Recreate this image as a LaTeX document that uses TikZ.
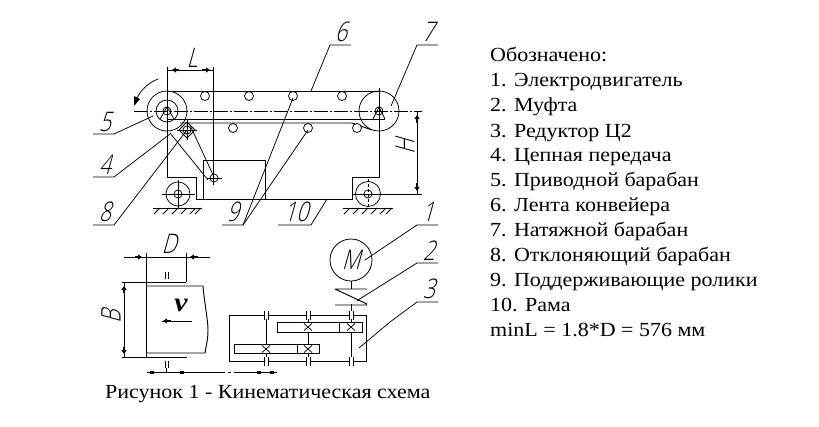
\documentclass[tikz,border=0pt]{standalone}
\usepackage{fontspec}
\setmainfont[FakeStretch=1.1]{Liberation Serif}
\newfontfamily\gost[UprightFont=* Light,FakeSlant=0.28,FakeStretch=0.78]{Open Sans}
\usetikzlibrary{arrows.meta}
\tikzset{
  x=1pt,y=-1pt,
  ln/.style={line width=0.95pt,black},
  thinln/.style={line width=0.75pt,black},
  axisln/.style={line width=0.8pt,black,dash pattern=on 14pt off 2pt on 2pt off 2pt},
  blob/.style={line width=2.6pt,black,-{Triangle[length=4pt,width=5pt]}},
  lbl/.style={font=\gost\fontsize{27}{27}\selectfont,inner sep=0pt,anchor=center},
  txt/.style={font=\fontsize{20}{20}\selectfont,inner sep=0pt,anchor=base west},
}
\begin{document}
\begin{tikzpicture}
\useasboundingbox (0,0) rectangle (819,426);
\fill[white] (0,0) rectangle (819,426);
% conveyor
\draw[axisln] (134,111) -- (422,111);
\draw[ln] (167,91) -- (379,91);
\draw[ln] (167,119) -- (385,119);
\draw[ln] (180,123) -- (352,123) -- (372,130);
\draw[ln] (167,67) -- (167,177) -- (196,177) -- (196,199) -- (352,199) -- (352,177) -- (379,177) -- (379,88);
\draw[ln] (203,199) -- (203,160) -- (265,160) -- (265,199);
\draw[ln] (213,67) -- (213,185);
\draw[thinln] (167,111) circle (20) (167,111) circle (11) (167,111) circle (4);
\draw[thinln] (167,107) -- (160,119) (167,107) -- (174,119);
\draw[thinln] (379,111) circle (20) (379,111) circle (4);
\draw[thinln] (379,107) -- (373,119) (379,107) -- (385,119);
\foreach \px/\py in {205/96,249/96,293/96,342/96,233/128,308/128,357/128}
  \draw[thinln,fill=white] (\px,\py) circle (4.5);
% deflecting sprocket and chain
\draw[thinln] (187,122) -- (195,130) -- (187,138) -- (179,130) -- cycle;
\draw[thinln] (187,130) circle (4);
\draw[thinln] (177,130) -- (197,130) (187,120) -- (187,140);
\draw[thinln] (214,178) circle (4);
\draw[thinln] (207,178) -- (222,178);
\draw[thinln] (170,133) -- (208,180) (190,125) -- (214,177);
% wheels
\draw[thinln] (178,194) circle (12) (178,194) circle (4);
\draw[thinln] (162,194) -- (195,194) (178,180) -- (178,208);
\draw[thinln] (368,194) circle (12.5) (368,194) circle (4);
\draw[ln] (352,194) -- (422,194);
\draw[thinln,densely dashed] (368,179) -- (368,208);
\draw[ln] (153,208) -- (202,208) (343,208) -- (393,208);
\foreach \hx in {160,169,178,187,196,201}
  \draw[thinln] (\hx,208) -- (\hx-6,214);
\foreach \hx in {350,359,368,377,386,392}
  \draw[thinln] (\hx,208) -- (\hx-6,214);
% rotation arrow
\draw[thinln] (158,79) .. controls (148,83) and (141,90) .. (137,98);
\fill (134,106) -- (134,96) -- (140,99) -- cycle;
% L dimension
\draw[thinln] (167,70) -- (213,70);
\draw[blob] (179,70) -- (172,70);
\draw[blob] (202,70) -- (210,70);
\node[lbl] (labL) at (192,58) {L};
% H dimension
\draw[thinln] (417,111) -- (417,194);
\draw[blob] (417,123) -- (417,115);
\draw[blob] (417,183) -- (417,191);
\node[lbl,rotate=90] (labH) at (405,147) {H};
% leaders
\coordinate (e5) at (153,116);
\coordinate (e4) at (170,134);
\coordinate (e8) at (187,130);
\coordinate (e91) at (293,98);
\coordinate (e92) at (308,130);
\coordinate (e10) at (327,199);
\coordinate (e6) at (311,91);
\coordinate (e7) at (391,106);
\draw[thinln] (93,134) -- (114,134) -- (e5);
\draw[thinln] (93,177) -- (114,177) -- (e4);
\draw[thinln] (93,225) -- (114,225) -- (e8);
\draw[thinln] (222,225) -- (243,225) -- (e91);
\draw[thinln] (243,225) -- (e92);
\draw[thinln] (278,225) -- (311,225) -- (e10);
\draw[thinln] (351,45) -- (330,45) -- (e6);
\draw[thinln] (438,45) -- (417,45) -- (e7);
\node[lbl] (lab5) at (105,122) {5};
\node[lbl] (lab4) at (105,165) {4};
\node[lbl] (lab8) at (105,212) {8};
\node[lbl] (lab9) at (233,212) {9};
\node[lbl] (lab10) at (296,212) {10};
\node[lbl] (lab6) at (341,32) {6};
\node[lbl] (lab7) at (428,32) {7};
% drum in plan
\draw[thinln] (146,253) -- (146,282) (186,253) -- (186,282);
\draw[thinln] (124,257) -- (210,257);
\draw[blob] (135,257) -- (142,257);
\draw[blob] (198,257) -- (190,257);
\node[lbl] (labD) at (169,244) {D};
\draw[ln] (122,282) -- (186,282);
\draw[ln] (122,357) -- (187,357);
\draw[ln] (146,282) -- (146,357);
\draw[ln] (146,286) -- (203,286) .. controls (204,300) and (208,320) .. (208,330) .. controls (208,340) and (206,346) .. (205,353) -- (146,353);
\draw[thinln] (124,282) -- (124,357);
\draw[blob] (124,293) -- (124,286);
\draw[blob] (124,347) -- (124,354);
\node[lbl,rotate=90] (labB) at (111,317) {B};
\draw[thinln] (165,272) -- (165,279) (168,272) -- (168,279);
\draw[thinln] (165,361) -- (165,368) (168,361) -- (168,368);
\draw[thinln] (166.5,368) -- (166.5,372);
\node[font=\fontsize{27}{27}\selectfont\bfseries\itshape,inner sep=0pt] (labv) at (181,305) {v};
\draw[thinln] (192,321) -- (162,321);
\draw[blob] (171,321) -- (163,321);
\draw[thinln] (147,372) -- (225,372);
\draw[thinln] (228,372) -- (231,372) (234,372) -- (277,372);
\foreach \ax in {152,182,259,272}
  \draw[line width=3pt] (\ax-2,372) -- (\ax+2,372);
% gearbox
\draw[ln] (229,315) rectangle (366,361);
\foreach \bx in {266,308,351} {
  \fill[white] (\bx-1.5,312) rectangle (\bx+1.5,318);
  \fill[white] (\bx-1.5,358) rectangle (\bx+1.5,364);
  \draw[thinln] (\bx-2,310.5) -- (\bx-2,319.5) (\bx+2,310.5) -- (\bx+2,319.5);
  \draw[thinln] (\bx-2,356.5) -- (\bx-2,365.5) (\bx+2,356.5) -- (\bx+2,365.5);
}
\draw[thinln] (266,319) -- (266,344) (266,353) -- (266,357);
\draw[thinln] (308,319) -- (308,322) (308,332) -- (308,344) (308,353) -- (308,357);
\draw[thinln] (351,304) -- (351,311) (351,319) -- (351,322) (351,332) -- (351,357);
\draw[ln] (277,322) rectangle (362,332) (339,322) -- (339,332);
\draw[ln] (234,344) rectangle (319,353) (297,344) -- (297,353);
\foreach \cx/\cy in {308/327,351/327,266/349,308/349}
  \draw[thinln] (\cx-4,\cy-3.5) -- (\cx+4,\cy+3.5) (\cx-4,\cy+3.5) -- (\cx+4,\cy-3.5);
% motor and coupling
\node[draw,circle,line width=0.8pt,minimum size=42pt,inner sep=0pt] (motor) at (351,260) {};
\node[lbl] (labM) at (351,260) {M};
\draw[ln] (motor.south) -- (351,289);
\draw[ln] (335,289) -- (367,289) (335,289) -- (367,304) (335,305) -- (367,305);
% leaders for motor, coupling and gearbox
\coordinate (e1) at (365,260);
\coordinate (e2) at (358,300);
\coordinate (e3) at (359,348);
\coordinate (e3b) at (390,322);
\draw[thinln] (438,225) -- (417,225) -- (e1);
\draw[thinln] (438,263) -- (417,263) -- (e2);
\draw[thinln] (438,302) -- (417,302) -- (e3b) -- (e3);
\fill (e2) circle (1.3);
\node[lbl] (lab1) at (428,212) {1};
\node[lbl] (lab2) at (429,251) {2};
\node[lbl] (lab3) at (429,289) {3};
% text
\node[txt] (t0) at (490,61) {Обозначено:};
\node[txt] (t1) at (490,86) {1. Электродвигатель};
\node[txt] (t2) at (490,111) {2. Муфта};
\node[txt] (t3) at (490,137) {3. Редуктор Ц2};
\node[txt] (t4) at (490,161) {4. Цепная передача};
\node[txt] (t5) at (490,186) {5. Приводной барабан};
\node[txt] (t6) at (490,211) {6. Лента конвейера};
\node[txt] (t7) at (490,236) {7. Натяжной барабан};
\node[txt] (t8) at (490,261) {8. Отклоняющий барабан};
\node[txt] (t9) at (490,286) {9. Поддерживающие ролики};
\node[txt] (t10) at (490,311) {10. Рама};
\node[txt] (t11) at (490,336) {minL = 1.8*D = 576 мм};
\node[txt] (cap) at (105,398) {Рисунок 1 - Кинематическая схема};
\end{tikzpicture}
\end{document}
